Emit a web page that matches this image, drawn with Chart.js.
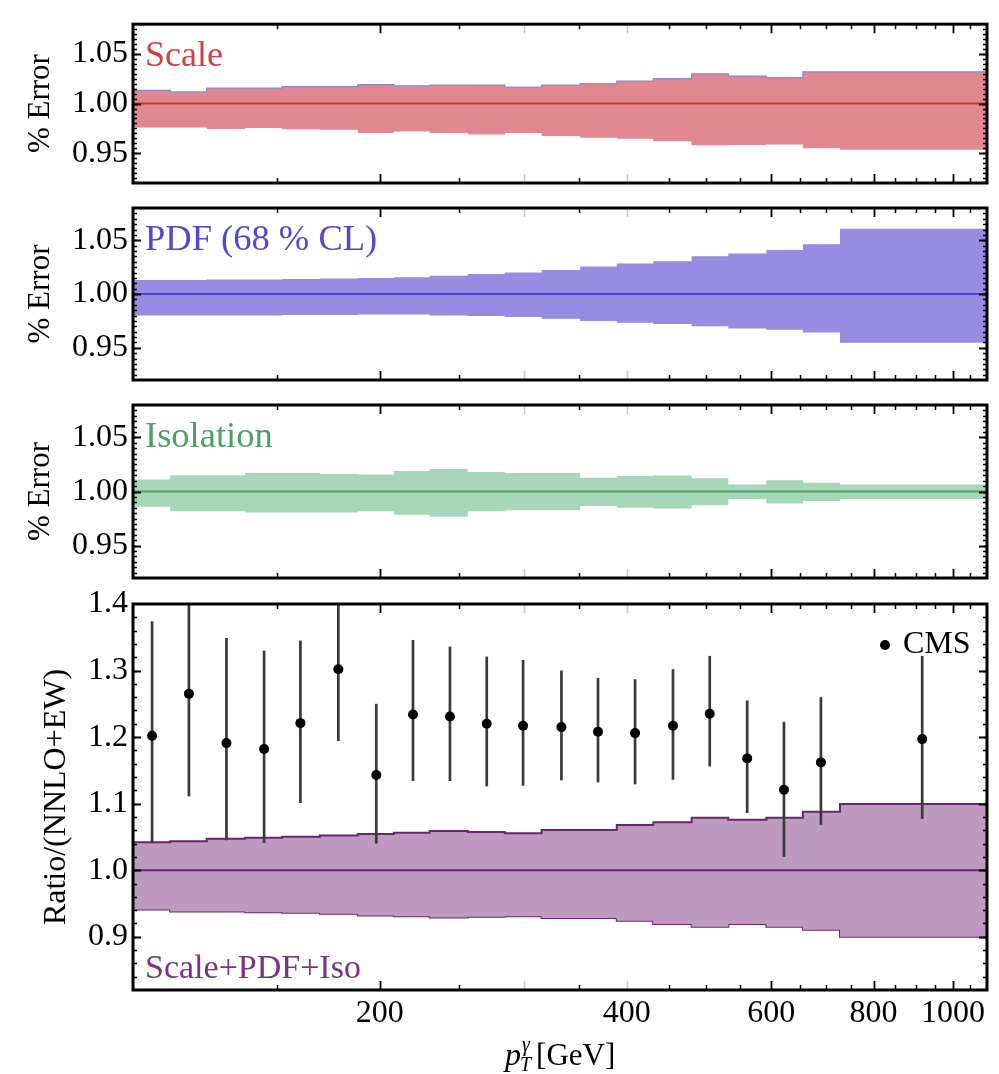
<!DOCTYPE html>
<html><head><meta charset="utf-8">
<script src="https://cdn.jsdelivr.net/npm/chart.js@4.4.1/dist/chart.umd.min.js"></script>
<style>
html,body{margin:0;padding:0;background:#fff;}
#wrap{position:relative;width:999px;height:1074px;overflow:hidden;}
#wrap canvas{position:absolute;left:0;top:0;}
</style></head><body>
<div id="wrap">
<canvas id="c1" width="999" height="1074"></canvas>
<canvas id="c2" width="999" height="1074"></canvas>
<canvas id="c3" width="999" height="1074"></canvas>
<canvas id="c4" width="999" height="1074"></canvas>
</div>
<script>
// ---- data ----
const binEdges = [100,111,123,137,152,169,188,208,230,256,284,315,351,389,431,480,532,592,656,728,1100];

const scaleUp = [1.0134,1.0118,1.0156,1.0156,1.0171,1.0171,1.0190,1.0178,1.0187,1.0185,1.0165,1.0187,1.0202,1.0227,1.0252,1.0300,1.0277,1.0262,1.0320,1.0320];
const scaleLo = [0.9760,0.9760,0.9745,0.9754,0.9742,0.9736,0.9704,0.9720,0.9704,0.9688,0.9704,0.9673,0.9657,0.9645,0.9620,0.9580,0.9583,0.9589,0.9550,0.9536];

const pdfUp = [1.0130,1.0130,1.0135,1.0135,1.0140,1.0145,1.0150,1.0155,1.0170,1.0185,1.0201,1.0224,1.0256,1.0284,1.0304,1.0351,1.0377,1.0409,1.0463,1.0607];
const pdfLo = [0.9800,0.9800,0.9800,0.9800,0.9805,0.9805,0.9810,0.9810,0.9800,0.9796,0.9786,0.9770,0.9748,0.9732,0.9722,0.9700,0.9680,0.9668,0.9642,0.9546];

const isoUp = [1.0110,1.0150,1.0150,1.0170,1.0170,1.0163,1.0157,1.0190,1.0208,1.0180,1.0170,1.0170,1.0128,1.0144,1.0147,1.0122,1.0064,1.0103,1.0080,1.0064];
const isoLo = [0.9860,0.9817,0.9817,0.9805,0.9805,0.9805,0.9817,0.9785,0.9766,0.9817,0.9827,0.9827,0.9865,0.9850,0.9843,0.9872,0.9930,0.9890,0.9913,0.9930];

const totUp = [1.0420,1.0436,1.0472,1.0487,1.0503,1.0523,1.0544,1.0564,1.0590,1.0574,1.0556,1.0606,1.0606,1.0680,1.0720,1.0790,1.0758,1.0790,1.0880,1.0995];
const totLo = [0.9410,0.9380,0.9380,0.9370,0.9359,0.9344,0.9318,0.9308,0.9290,0.9300,0.9310,0.9283,0.9283,0.9242,0.9192,0.9150,0.9192,0.9150,0.9106,0.9000];

const cmsX  = [105.5,117,130,144.5,160,178,198,219.5,243.5,270,299,333,369,409.5,455.5,505,561,622,690,917];
const cmsY  = [1.202,1.265,1.191,1.182,1.221,1.302,1.143,1.234,1.231,1.220,1.217,1.215,1.208,1.206,1.217,1.235,1.168,1.121,1.162,1.197];
const cmsHi = [1.374,1.410,1.349,1.330,1.345,1.410,1.250,1.346,1.336,1.321,1.316,1.300,1.289,1.287,1.302,1.322,1.255,1.223,1.260,1.322];
const cmsLo = [1.042,1.111,1.045,1.041,1.101,1.194,1.040,1.134,1.134,1.126,1.127,1.135,1.132,1.129,1.136,1.156,1.086,1.020,1.068,1.077];

const xTickLabels = [200,400,600,800,1000];
const errTicks = [0.95,1.00,1.05];
const ratioTicks = [0.9,1.0,1.1,1.2,1.3,1.4];

// ---- helpers ----
const SERIF = "'Liberation Serif','Times New Roman',serif";
const W = 999, H = 1074, PLOT_R_PAD = 12, PLOT_L = 133;
function stepPoints(vals){ return binEdges.map((e,i)=>({x:e, y:vals[Math.min(i, vals.length-1)]})); }
function flatPoints(v){ return [{x:binEdges[0], y:v},{x:binEdges[binEdges.length-1], y:v}]; }

const xMajor = [200,600,800,1000];
const xFaint = [300,400];
const xMinor = [150,250,350,450,500,550,650,700,750,850,900,950,1050];

function framePlugin(cfg){
  return {
    id:'frame',
    afterDraw(chart){
      const {ctx, chartArea:a, scales:{x,y}} = chart;
      ctx.save();
      ctx.lineCap = 'butt';
      const xt = (vals,len,color,w)=>{
        ctx.strokeStyle=color; ctx.lineWidth=w;
        vals.forEach(v=>{ const p=Math.round(x.getPixelForValue(v))+0.5;
          ctx.beginPath(); ctx.moveTo(p,a.top); ctx.lineTo(p,a.top+len);
          ctx.moveTo(p,a.bottom); ctx.lineTo(p,a.bottom-len); ctx.stroke(); });
      };
      xt(xMinor,5,'#000',1.5);
      xt(xFaint,9,'#c8c8c8',1.5);
      xt(xMajor,9,'#000',1.8);
      const yt = (vals,len,w)=>{
        ctx.strokeStyle='#000'; ctx.lineWidth=w;
        vals.forEach(v=>{ const p=Math.round(y.getPixelForValue(v))+0.5;
          if (p<a.top+2||p>a.bottom-2) return;
          ctx.beginPath(); ctx.moveTo(a.left,p); ctx.lineTo(a.left+len,p);
          ctx.moveTo(a.right,p); ctx.lineTo(a.right-len,p); ctx.stroke(); });
      };
      const minors=[];
      for(let v=cfg.ymin; v<=cfg.ymax+1e-9; v+=cfg.minorStep) minors.push(+v.toFixed(4));
      yt(minors,4,1.6);
      yt(cfg.majors,8,2);
      ctx.strokeStyle='#000'; ctx.lineWidth=3;
      ctx.strokeRect(a.left, a.top, a.right-a.left, a.bottom-a.top);
      ctx.restore();
    }
  };
}

function labelPlugin(cfg){
  return {
    id:'labels',
    afterDraw(chart){
      const {ctx, chartArea:a} = chart;
      ctx.save();
      ctx.font = cfg.labelSize+'px '+SERIF;
      ctx.fillStyle = cfg.labelColor;
      ctx.textBaseline='alphabetic'; ctx.textAlign='left';
      const by = cfg.labelBottom ? a.bottom - 12 : a.top + 42;
      ctx.fillText(cfg.label, a.left + 12, by);
      ctx.restore();
    }
  };
}

function makePanel(id, cfg){
  const datasets = [];
  if (cfg.cms) {
    datasets.push({type:'scatter', label:'CMS', data: cmsX.map((x,i)=>({x, y:cmsY[i]})),
      pointRadius:5, pointBackgroundColor:'#000', pointBorderColor:'#000', pointBorderWidth:0, showLine:false});
  }
  datasets.push({label:'center', data: flatPoints(1.0), borderColor: cfg.center, borderWidth: 2, pointRadius:0, fill:false});
  datasets.push({label: cfg.label+' up', data: stepPoints(cfg.up), stepped:'before', borderColor: cfg.edgeUp||cfg.fill,
    borderWidth: cfg.edgeUpW||0, pointRadius:0, fill:'+1', backgroundColor: cfg.fill});
  datasets.push({label: cfg.label+' low', data: stepPoints(cfg.lo), stepped:'before', borderColor: cfg.edgeLo||cfg.fill,
    borderWidth: cfg.edgeLoW||0, pointRadius:0, fill:false});

  const errBars = {
    id:'errbars',
    beforeDatasetDraw(chart, args){
      if (!cfg.cms || args.index !== 0) return;
      const {ctx, chartArea:a, scales:{x,y}} = chart;
      ctx.save();
      ctx.beginPath(); ctx.rect(a.left,a.top,a.right-a.left,a.bottom-a.top); ctx.clip();
      ctx.strokeStyle='#3a3a3a'; ctx.lineWidth=2.7;
      cmsX.forEach((xv,i)=>{
        const px = x.getPixelForValue(xv);
        ctx.beginPath(); ctx.moveTo(px, y.getPixelForValue(cmsHi[i])); ctx.lineTo(px, y.getPixelForValue(cmsLo[i])); ctx.stroke();
      });
      ctx.restore();
    },
    afterDraw(chart){
      if (!cfg.cms) return;
      const {ctx, chartArea:a} = chart;
      ctx.save();
      ctx.fillStyle='#000';
      ctx.beginPath(); ctx.arc(a.right-102, a.top+41, 5, 0, Math.PI*2); ctx.fill();
      ctx.font = '32px '+SERIF; ctx.textBaseline='alphabetic'; ctx.textAlign='left';
      ctx.fillText('CMS', a.right-84, a.top+49);
      // x-axis title p_T^γ [GeV]
      const bx = 505, by = 1065;
      ctx.font = 'italic 32px '+SERIF;
      ctx.fillText('p', bx, by);
      const pw = ctx.measureText('p').width;
      ctx.font = 'italic 20px '+SERIF;
      ctx.fillText('T', bx+pw-1, by+6);
      ctx.fillText('γ', bx+pw+1, by-14);
      const sw = Math.max(ctx.measureText('T').width, ctx.measureText('γ').width);
      ctx.font = '31px '+SERIF;
      ctx.fillText('[GeV]', bx+pw+sw+4, by);
      ctx.restore();
    }
  };

  const isBottom = !!cfg.cms;
  new Chart(document.getElementById(id), {
    type:'line',
    data:{datasets},
    options:{
      responsive:false, maintainAspectRatio:false, animation:false, events:[],
      layout:{padding:{left:0, right:PLOT_R_PAD, top:cfg.top, bottom: isBottom ? 0 : H - cfg.bottom}},
      plugins:{legend:{display:false}, tooltip:{enabled:false}},
      scales:{
        x:{type:'logarithmic', min:100, max:1100, display:isBottom, position:'bottom',
          grid:{display:false, drawTicks:false}, border:{display:false},
          afterBuildTicks:(s)=>{ s.ticks = xTickLabels.map(v=>({value:v})); },
          afterFit:(s)=>{ s.height = isBottom ? H - cfg.bottom : 0; },
          ticks:{autoSkip:false, maxRotation:0, minRotation:0, padding:4, color:'#000',
            font:{family:SERIF, size:32}, callback:(v)=>String(v)}},
        y:{type:'linear', min:cfg.ymin, max:cfg.ymax,
          grid:{display:false, drawTicks:false}, border:{display:false},
          afterBuildTicks:(s)=>{ s.ticks = cfg.majors.map(v=>({value:v})); },
          afterFit:(s)=>{ s.width = PLOT_L; },
          ticks:{padding:5, color:'#000', font:{family:SERIF, size:32}, callback:(v)=>v.toFixed(cfg.dec)},
          title:{display:true, text:cfg.ytitle, color:'#000', font:{family:SERIF, size:cfg.ytitleSize}, padding:{top:cfg.ytitlePad, bottom:0}}}
      }
    },
    plugins:[framePlugin(cfg), labelPlugin(cfg), errBars]
  });
}

makePanel('c1', {top:13, bottom:183, ymin:0.92, ymax:1.08, majors:errTicks, minorStep:0.005, dec:2,
  up:scaleUp, lo:scaleLo, fill:'#e0878f', center:'#c8383e', edgeUp:'#8f86d9', edgeUpW:1.3,
  label:'Scale', labelColor:'#d2403f', labelSize:36, ytitle:'% Error', ytitleSize:31, ytitlePad:22});
makePanel('c2', {top:208, bottom:380, ymin:0.92, ymax:1.08, majors:errTicks, minorStep:0.005, dec:2,
  up:pdfUp, lo:pdfLo, fill:'#978be2', center:'#4b3fd4',
  label:'PDF (68 % CL)', labelColor:'#5446d2', labelSize:36.5, ytitle:'% Error', ytitleSize:31, ytitlePad:22});
makePanel('c3', {top:405, bottom:578, ymin:0.92, ymax:1.08, majors:errTicks, minorStep:0.005, dec:2,
  up:isoUp, lo:isoLo, fill:'#a7d6b9', center:'#4a9f63',
  label:'Isolation', labelColor:'#4f9e63', labelSize:36.5, ytitle:'% Error', ytitleSize:31, ytitlePad:22});
makePanel('c4', {top:604, bottom:990, ymin:0.82, ymax:1.4, majors:ratioTicks, minorStep:0.02, dec:1, cms:true,
  up:totUp, lo:totLo, fill:'#be9ac0', center:'#6b2570', edgeUp:'#6b2570', edgeUpW:2, edgeLo:'#6b2570', edgeLoW:2,
  label:'Scale+PDF+Iso', labelColor:'#78347c', labelSize:34, labelBottom:true, ytitle:'Ratio/(NNLO+EW)', ytitleSize:32, ytitlePad:37});
</script>
</body></html>
